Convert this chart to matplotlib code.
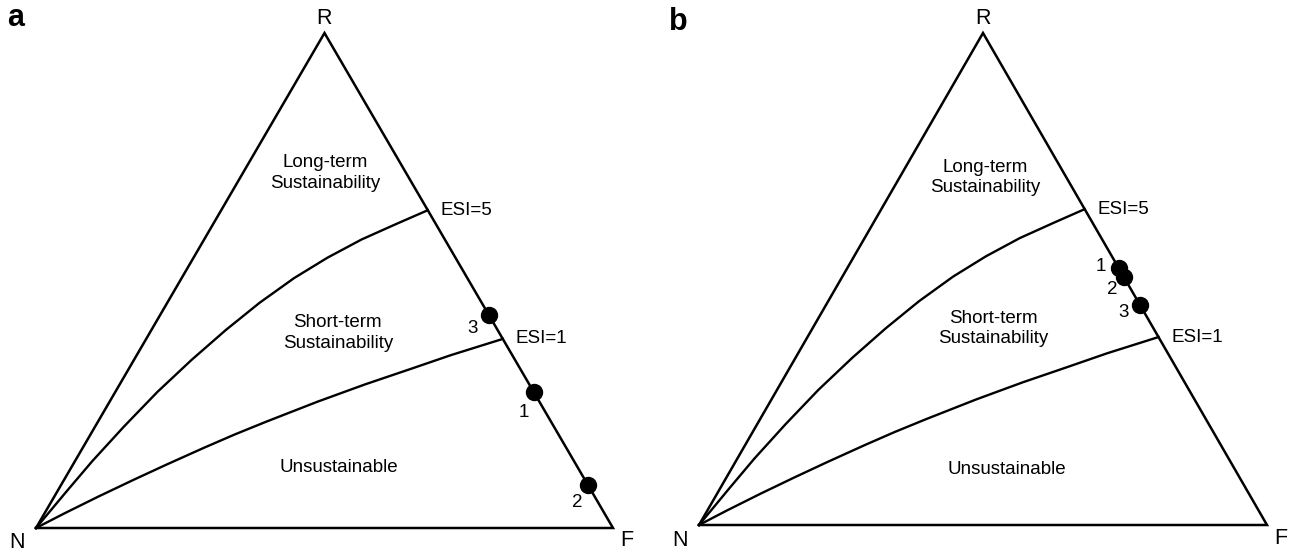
import matplotlib
matplotlib.use("Agg")
import matplotlib.pyplot as plt
import numpy as np

plt.rcParams['font.family'] = ['Liberation Sans', 'DejaVu Sans']

# ---- data (ternary shares: F = purchased, R = renewable; N = 1 - R - F) ----
esi_levels = ["ESI=5", "ESI=1"]
esi5_f = [0, 0.016, 0.030, 0.050, 0.073, 0.100, 0.129, 0.160, 0.195, 0.232, 0.273, 0.317, 0.358]
esi5_r = [0, 0.074, 0.135, 0.205, 0.275, 0.340, 0.400, 0.455, 0.505, 0.546, 0.583, 0.614, 0.642]
esi1_f = [0, 0.035, 0.077, 0.120, 0.162, 0.210, 0.250, 0.292, 0.360, 0.425, 0.490, 0.544, 0.618]
esi1_r = [0, 0.030, 0.064, 0.097, 0.128, 0.162, 0.189, 0.215, 0.255, 0.290, 0.322, 0.349, 0.382]

point_ids = ["1", "2", "3"]
a_r = [0.275, 0.087, 0.430]
a_f = [0.725, 0.913, 0.570]
b_r = [0.522, 0.504, 0.447]
b_f = [0.478, 0.496, 0.553]

vertex_names = ["N", "R", "F"]
region_names = ["Long-term\nSustainability", "Short-term\nSustainability", "Unsustainable"]

# ---- layout ----
a_label_off = [(-10, -21), (-11, -18), (-16, -13)]
b_label_off = [(-18, 2), (-12, -12), (-17, -7)]
a_region_pos = [(0.501, 0.717), (0.523, 0.394), (0.525, 0.123)]
b_region_pos = [(0.504, 0.707), (0.518, 0.400), (0.542, 0.112)]

FS = 13.5
VFS = 15.5
LW = 1.8


def tern(f, r):
    f = np.asarray(f, float)
    r = np.asarray(r, float)
    return f + 0.5 * r, r


def draw_panel(ax, pr, pf, offs, region_pos):
    ax.set_xlim(0, 1)
    ax.set_ylim(0, 1)
    ax.axis("off")
    # triangle N-R-F
    tx, ty = tern([0, 0, 1, 0], [0, 1, 0, 0])
    ax.plot(tx, ty, color="black", lw=LW, clip_on=False, solid_joinstyle="miter")
    # vertex labels
    vx, vy = tern([0, 0, 1], [0, 1, 0])
    voffs = [(-19, -15), (0, 14), (14, -13)]
    for name, x, y, o in zip(vertex_names, vx, vy, voffs):
        ax.annotate(name, (x, y), xytext=o, textcoords="offset pixels",
                    ha="center", va="center", fontsize=VFS, annotation_clip=False)
    # ESI curves
    for lab, cf, cr in zip(esi_levels, [esi5_f, esi1_f], [esi5_r, esi1_r]):
        cx, cy = tern(cf, cr)
        ax.plot(cx, cy, color="black", lw=1.7, clip_on=False, solid_joinstyle="round")
        ax.annotate(lab, (cx[-1], cy[-1]), xytext=(13, 0), textcoords="offset pixels",
                    ha="left", va="center", fontsize=FS, annotation_clip=False)
    # points
    px, py = tern(pf, pr)
    ax.plot(px, py, "o", color="black", ms=11.5, clip_on=False, zorder=5)
    for pid, x, y, o in zip(point_ids, px, py, offs):
        ax.annotate(pid, (x, y), xytext=o, textcoords="offset pixels",
                    ha="center", va="center", fontsize=FS, annotation_clip=False)
    # region names
    for name, (x, y) in zip(region_names, region_pos):
        ax.text(x, y, name, ha="center", va="center", fontsize=FS,
                linespacing=1.25, transform=ax.transAxes)


W, H = 1290, 555
fig = plt.figure(figsize=(W / 100, H / 100), dpi=100)
fig.patch.set_facecolor("white")

ax_a = fig.add_axes([36 / W, (H - 528) / H, 577 / W, 495 / H])
ax_b = fig.add_axes([699 / W, (H - 525) / H, 568 / W, 492 / H])

draw_panel(ax_a, a_r, a_f, a_label_off, a_region_pos)
draw_panel(ax_b, b_r, b_f, b_label_off, b_region_pos)

fig.text(16 / W, 1 - 18 / H, "a", fontsize=22, fontweight="bold", ha="center", va="center")
fig.text(678 / W, 1 - 22 / H, "b", fontsize=22, fontweight="bold", ha="center", va="center")

fig.savefig("out.png", dpi=100, facecolor="white")
